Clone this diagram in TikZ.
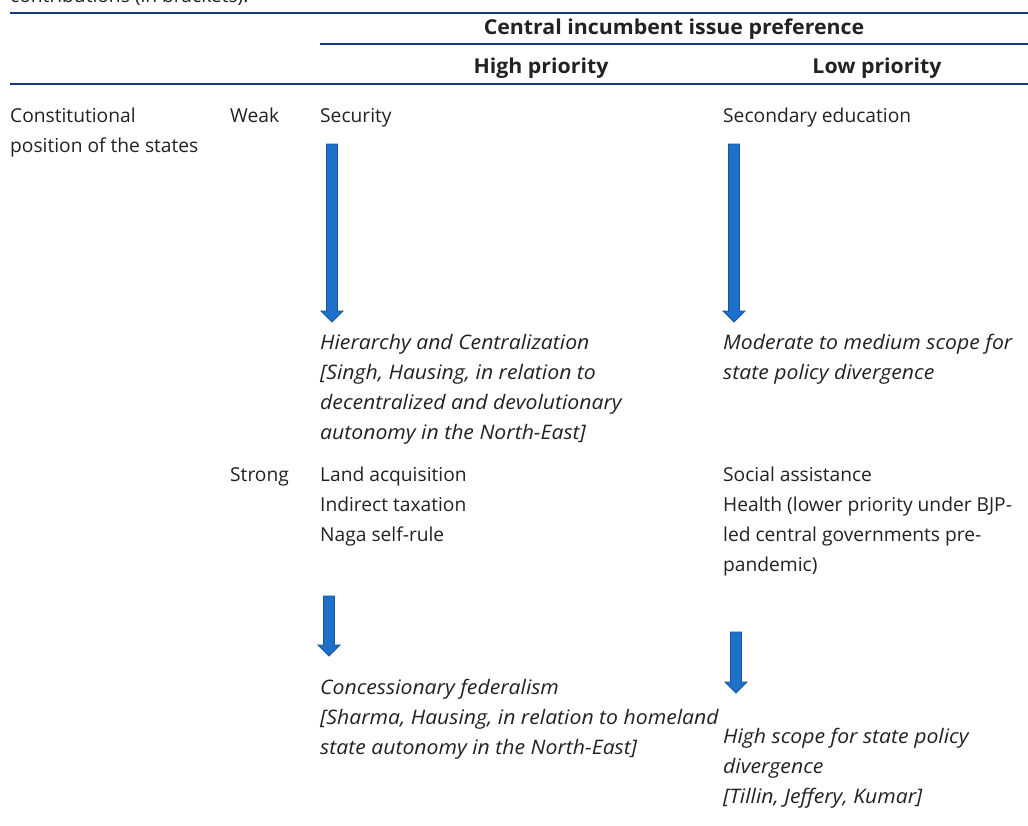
\documentclass[tikz,border=0pt]{standalone}
\usepackage{fontspec}
\setmainfont{Open Sans}[ItalicFeatures={FakeStretch=1.06}, BoldFeatures={FakeStretch=1.04}]
\usepackage{xcolor}
\usepackage{tikz}

\definecolor{rulecol}{RGB}{20,58,125}
\definecolor{txtcol}{RGB}{34,34,34}
\definecolor{arrowfill}{RGB}{30,112,200}
\definecolor{arrowline}{RGB}{22,86,160}

\tikzset{
    cell/.style={anchor=base west, inner sep=0pt, text=txtcol, font=\fontsize{19.2}{30}\selectfont},
    cellit/.style={cell, font=\fontsize{20}{30}\selectfont\itshape},
    head/.style={anchor=base, inner sep=0pt, text=txtcol, font=\fontsize{20.5}{30}\selectfont\bfseries},
    rulethick/.style={draw=rulecol, line width=2pt},
    rulethin/.style={draw=rulecol, line width=1.5pt},
    blockarrow/.style={fill=arrowfill, draw=arrowline, line width=0.8pt, line join=miter}
}
\newcommand{\downblock}[3]{%
    \draw[blockarrow] (#1-5.5,#2) -- (#1+5.5,#2) -- (#1+5.5,#3-11) -- (#1+11,#3-11)
        -- (#1,#3) -- (#1-11,#3-11) -- (#1-5.5,#3-11) -- cycle;}

\begin{document}
\begin{tikzpicture}[x=1pt, y=-1pt]
        \clip (0,0) rectangle (1028,825);
        \fill[white] (0,0) rectangle (1028,825);

        \node[cell] (caption) at (10,2) {contributions (in brackets).};

        \draw[rulethick] (10,13) coordinate (r1a) -- (1028,13) coordinate (r1b);
        \node[head] (hcentral) at (674,34) {Central incumbent issue preference};
        \draw[rulethick] (320,44) coordinate (r2a) -- (1028,44) coordinate (r2b);
        \node[head] (hhigh) at (541,73) {High priority};
        \node[head] (hlow) at (877,73) {Low priority};
        \draw[rulethin] (10,84) coordinate (r3a) -- (1028,84) coordinate (r3b);

        \node[cell] (const1) at (10,122) {Constitutional};
        \node[cell] (const2) at (10,152) {position of the states};

        \node[cell] (weak) at (230,122) {Weak};
        \node[cell] (security) at (320,122) {Security};
        \node[cell] (secedu) at (723,122) {Secondary education};

        \downblock{332}{144}{322}
        \downblock{734}{144}{322}

        \node[cellit] (hier1) at (320,349) {Hierarchy and Centralization};
        \node[cellit] (hier2) at (320,379) {[Singh, Hausing, in relation to};
        \node[cellit] (hier3) at (320,409) {decentralized and devolutionary};
        \node[cellit] (hier4) at (320,439) {autonomy in the North-East]};
        \node[cellit] (mod1) at (723,349) {Moderate to medium scope for};
        \node[cellit] (mod2) at (723,379) {state policy divergence};

        \node[cell] (strong) at (230,481) {Strong};
        \node[cell] (land) at (320,481) {Land acquisition};
        \node[cell] (tax) at (320,511) {Indirect taxation};
        \node[cell] (naga) at (320,541) {Naga self-rule};
        \node[cell] (social) at (723,481) {Social assistance};
        \node[cell] (health1) at (723,511) {Health (lower priority under BJP-};
        \node[cell] (health2) at (723,541) {led central governments pre-};
        \node[cell] (health3) at (723,571) {pandemic)};

        \downblock{329}{596}{656}
        \downblock{736}{632}{693}

        \node[cellit] (conc1) at (320,694) {Concessionary federalism};
        \node[cellit] (conc2) at (320,724) {[Sharma, Hausing, in relation to homeland};
        \node[cellit] (conc3) at (320,754) {state autonomy in the North-East]};
        \node[cellit] (scope1) at (723,743) {High scope for state policy};
        \node[cellit] (scope2) at (723,773) {divergence};
        \node[cellit] (scope3) at (723,803) {[Tillin, Jeffery, Kumar]};
    \end{tikzpicture}
\end{document}
